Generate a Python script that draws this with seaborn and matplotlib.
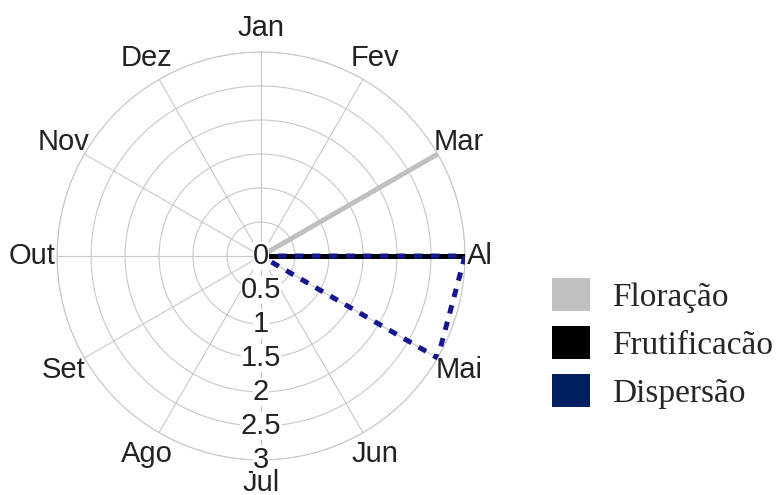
#!/usr/bin/env python3

import numpy as np
import pandas as pd
import seaborn as sns
from matplotlib import pyplot as plt
from matplotlib.patches import Patch
from matplotlib.transforms import Bbox, TransformedBbox

meses = ["Jan", "Fev", "Mar", "Abr", "Mai", "Jun",
         "Jul", "Ago", "Set", "Out", "Nov", "Dez"]
floracao = [0, 0, 3, 0, 0, 0, 0, 0, 0, 0, 0, 0]
frutificacao = [0, 0, 0, 3, 0, 0, 0, 0, 0, 0, 0, 0]
dispersao = [0, 0, 0, 3, 3, 0, 0, 0, 0, 0, 0, 0]
r_ticks = [0, 0.5, 1, 1.5, 2, 2.5, 3]

fases = ["Floração", "Frutificacão", "Dispersão"]
cores = ["#c0c0c0", "#000000", "#001f5f"]
cor_linha_disp = "#14188f"

sns.set_style("white")
plt.rcParams["font.family"] = ["Liberation Sans", "DejaVu Sans"]

theta = np.arange(len(meses)) * 2 * np.pi / len(meses)
df = pd.DataFrame({"theta": theta, "floracao": floracao,
                   "frutificacao": frutificacao, "dispersao": dispersao})

fig = plt.figure(figsize=(7.78, 4.95), dpi=100)
ax = fig.add_axes([0.0733, 0.0707, 0.5244, 0.8242], projection="polar")
ax.set_theta_offset(np.pi / 2)
ax.set_theta_direction(-1)

sns.lineplot(data=df, x="theta", y="floracao", color=cores[0], lw=3.2,
             ax=ax, sort=False, zorder=3)
sns.lineplot(data=df, x="theta", y="frutificacao", color=cores[1], lw=3.6,
             ax=ax, sort=False, zorder=4)
sns.lineplot(data=df, x="theta", y="dispersao", color=cor_linha_disp, lw=3.6,
             ax=ax, sort=False, zorder=5, linestyle=(0, (1.7, 1.7)))

ax.set_ylim(0, 3)
ax.set_xticks(theta)
ax.set_xticklabels([])
ax.set_yticks(r_ticks[1:])
ax.set_yticklabels([])
ax.set_xlabel("")
ax.set_ylabel("")
ax.grid(True, color="#c8c8c8", lw=0.8)
ax.spines["polar"].set_color("#c8c8c8")
ax.spines["polar"].set_linewidth(0.8)

# radial labels down the Jul spoke
for r in r_ticks:
    ax.text(np.pi, r, f"{r:g}", ha="center", va="center", fontsize=21,
            color="#222222", zorder=10,
            bbox=dict(facecolor="white", edgecolor="none", pad=0.2))

# month labels outside the circle
clip = TransformedBbox(Bbox([[0, 0], [490 / 778, 1]]), fig.transFigure)
for t, m in zip(theta, meses):
    r_lab = 3.34 if m == "Jul" else 3.36
    txt = ax.text(t, r_lab, m, ha="center", va="center", fontsize=21,
                  color="#222222", clip_on=False)
    if m == "Abr":
        txt.set_clip_on(True)
        txt.set_clip_box(clip)

handles = [Patch(facecolor=c, edgecolor="none") for c in cores]
fig.legend(handles, fases, loc="upper left",
           bbox_to_anchor=(552 / 778, 1 - 278 / 495), frameon=False,
           prop={"family": "Liberation Serif", "size": 24},
           handlelength=1.15, handleheight=1.15, handletextpad=0.65,
           labelspacing=0.4, borderpad=0, borderaxespad=0)

plt.savefig("out.png", dpi=100)
